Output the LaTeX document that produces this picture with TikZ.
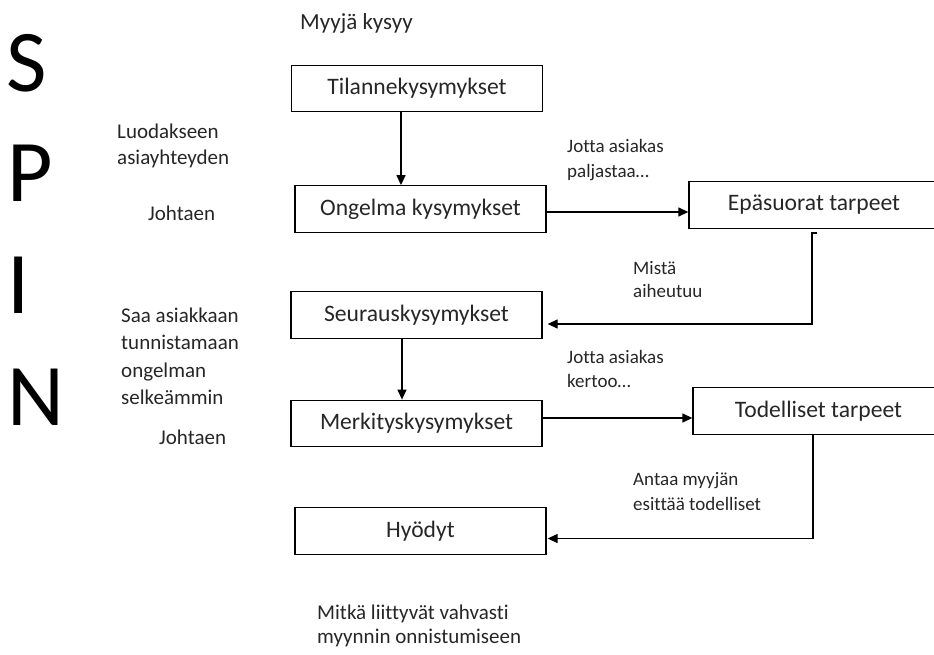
\documentclass[tikz,border=0pt]{standalone}
\usepackage{fontspec}
\setmainfont{Carlito}[Ligatures=NoCommon]
\usetikzlibrary{arrows.meta}
\begin{document}
\begin{tikzpicture}[x=1pt,y=-1pt,
  box/.style={draw=black,line width=1.3pt,minimum width=251pt,minimum height=46.5pt,inner sep=0pt,font=\fontsize{23.6}{27}\selectfont,text=black!85},
  lbl/.style={anchor=base west,inner sep=0pt,font=\fontsize{21}{25}\selectfont,text=black!85},
  clbl/.style={anchor=base west,inner sep=0pt,font=\fontsize{19}{23}\selectfont,text=black!85},
  big/.style={anchor=base west,inner sep=0pt,font=\fontsize{88}{96}\selectfont},
  conn/.style={line width=1.3pt,-{Triangle[length=10pt,width=9pt]}}]
\clip (0,0) rectangle (934,655);

% SPIN letters
\node[big] (S) at (6,92) {S};
\node[big] (P) at (7,202) {P};
\node[big] (I) at (7,313) {I};
\node[big] (N) at (7,425) {N};

% boxes
\node[box] (tilanne)    at (417,88.5)  {Tilannekysymykset};
\node[box] (ongelma)    at (420.5,209) {Ongelma kysymykset};
\node[box] (seuraus)    at (416.5,315) {Seurauskysymykset};
\node[box] (merkitys)   at (416.5,423.5) {Merkityskysymykset};
\node[box] (hyodyt)     at (420.5,531) {Hyödyt};
\node[box,minimum width=250pt] (epasuorat)  at (814,205) {Epäsuorat tarpeet};
\node[box] (todelliset) at (818.5,411) {Todelliset tarpeet};

% side labels
\node[lbl,font=\fontsize{23}{27}\selectfont] (myyja) at (300,30) {Myyjä kysyy};
\node[lbl] (luod1) at (117,139) {Luodakseen};
\node[lbl] (luod2) at (117,165) {asiayhteyden};
\node[lbl] (johtaen1) at (148,220) {Johtaen};
\node[lbl] (saa1) at (121,322) {Saa asiakkaan};
\node[lbl] (saa2) at (121,349.5) {tunnistamaan};
\node[lbl] (saa3) at (121,377) {ongelman};
\node[lbl] (saa4) at (121,404.5) {selkeämmin};
\node[lbl] (johtaen2) at (159,444) {Johtaen};
\node[lbl] (mitka1) at (317,619) {Mitkä liittyvät vahvasti};
\node[lbl] (mitka2) at (317,643) {myynnin onnistumiseen};

% connector labels
\node[clbl] (jotta1a) at (567,153) {Jotta asiakas};
\node[clbl] (jotta1b) at (567,178) {paljastaa…};
\node[clbl] (mista1) at (633,274) {Mistä};
\node[clbl] (mista2) at (633,297) {aiheutuu};
\node[clbl] (jotta2a) at (567,363) {Jotta asiakas};
\node[clbl] (jotta2b) at (567,387) {kertoo…};
\node[clbl] (antaa1) at (633,485) {Antaa myyjän};
\node[clbl] (antaa2) at (633,510) {esittää todelliset};

% connectors
\draw[conn] ([xshift=-16pt]tilanne.south) -- ([xshift=-16pt]tilanne.south |- ongelma.north);
\draw[conn] ([yshift=-3pt]ongelma.east) -- ([yshift=-3pt]ongelma.east -| epasuorat.west);
\draw[conn] ([xshift=3pt,yshift=-4pt]epasuorat.south) -- ([xshift=-2pt,yshift=-4pt]epasuorat.south) |- ([xshift=5pt,yshift=-9pt]seuraus.east);
\draw[conn] ([xshift=-14.5pt]seuraus.south) -- ([xshift=-14.5pt]seuraus.south |- merkitys.north);
\draw[conn] ([yshift=5.5pt]merkitys.east) -- ([yshift=5.5pt]merkitys.east -| todelliset.west);
\draw[conn] ([xshift=-5.5pt]todelliset.south) |- ([xshift=1pt,yshift=-7.5pt]hyodyt.east);
\end{tikzpicture}
\end{document}
